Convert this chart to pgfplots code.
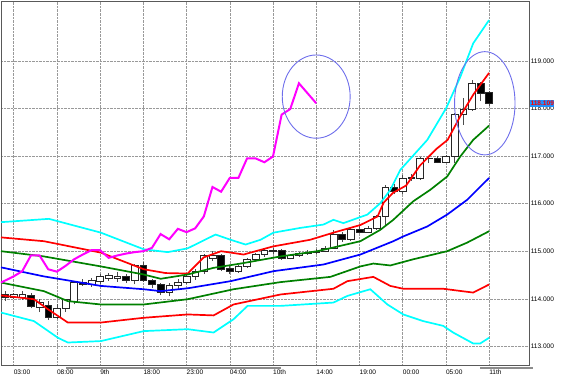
\documentclass[border=0pt]{standalone}
\usepackage{pgfplots}
\pgfplotsset{compat=1.18}
\usepackage{fontspec}
\setmainfont{Liberation Sans}
\definecolor{mtcyan}{RGB}{0,255,255}
\definecolor{mtred}{RGB}{255,0,0}
\definecolor{mtgreen}{RGB}{0,128,0}
\definecolor{mtblue}{RGB}{0,0,255}
\definecolor{mtmag}{RGB}{255,0,255}
\definecolor{ellc}{RGB}{110,110,235}
\definecolor{pricebg}{RGB}{30,144,255}
% candle: index, low, body bottom, body top, high
\newcommand{\candle}[6]{%
  \pgfmathsetmacro\xa{#1-0.39}\pgfmathsetmacro\xb{#1+0.39}%
  \edef\tmp{\noexpand\addplot[draw=black!70, line width=0.6bp] coordinates {(#1,#2) (#1,#5)};
    \noexpand\addplot[draw=black!85, fill=#6, line width=0.6bp] coordinates {(\xa,#3) (\xb,#3) (\xb,#4) (\xa,#4)} -- cycle;}%
  \tmp}
\newcommand{\cw}[5]{\candle{#1}{#2}{#3}{#4}{#5}{white}}
\newcommand{\cb}[5]{\candle{#1}{#2}{#3}{#4}{#5}{black}}
\begin{document}
\begin{tikzpicture}
\begin{axis}[
  name=ax, scale only axis, width=529bp, height=365bp,
  xmin=-0.46, xmax=60.62, ymin=112.60, ymax=120.26,
  clip=false,
  xtick={1,6,...,56},
  xticklabels={03:00,08:00,9th,18:00,23:00,04:00,10th,14:00,19:00,00:00,05:00,11th},
  ytick={113,114,...,119},
  yticklabel pos=right,
  grid=major,
  major grid style={densely dotted, black!40, line width=0.5bp},
  major tick length=0pt,
  axis line style={black!65, line width=0.7bp},
  yticklabel style={font=\fontsize{6.6}{7}\selectfont, anchor=west, inner sep=0pt, xshift=1.5bp,
     /pgf/number format/fixed, /pgf/number format/fixed zerofill, /pgf/number format/precision=3},
  xticklabel style={font=\fontsize{6.6}{7}\selectfont, anchor=north west, inner sep=0pt, yshift=-4bp},
  /pgf/number format/assume math mode=true,
]
% candles
\cb{0}{113.95}{114.03}{114.09}{114.16}
\cw{1}{113.99}{114.03}{114.10}{114.12}
\cw{2}{113.98}{114.03}{114.10}{114.16}
\cb{3}{113.80}{113.85}{114.08}{114.12}
\cw{4}{113.72}{113.82}{113.92}{113.99}
\cb{5}{113.55}{113.60}{113.87}{113.95}
\cw{6}{113.57}{113.62}{113.80}{113.88}
\cw{7}{113.72}{113.80}{113.98}{114.00}
\cw{8}{113.88}{113.95}{114.34}{114.38}
\cb{9}{114.27}{114.31}{114.34}{114.42}
\cw{10}{114.25}{114.31}{114.38}{114.44}
\cw{11}{114.30}{114.36}{114.47}{114.52}
\cw{12}{114.38}{114.44}{114.50}{114.55}
\cw{13}{114.36}{114.42}{114.48}{114.56}
\cb{14}{114.33}{114.39}{114.48}{114.52}
\cw{15}{114.30}{114.39}{114.70}{114.73}
\cb{16}{114.35}{114.38}{114.70}{114.78}
\cb{17}{114.22}{114.30}{114.38}{114.42}
\cb{18}{114.07}{114.13}{114.30}{114.34}
\cw{19}{114.05}{114.13}{114.28}{114.33}
\cw{20}{114.20}{114.28}{114.34}{114.42}
\cw{21}{114.30}{114.34}{114.47}{114.52}
\cw{22}{114.40}{114.47}{114.58}{114.62}
\cw{23}{114.52}{114.58}{114.91}{114.95}
\cw{24}{114.80}{114.86}{114.91}{115.00}
\cb{25}{114.58}{114.62}{114.92}{114.95}
\cb{26}{114.52}{114.57}{114.63}{114.68}
\cw{27}{114.55}{114.57}{114.69}{114.72}
\cw{28}{114.65}{114.69}{114.83}{114.86}
\cw{29}{114.80}{114.83}{114.93}{114.97}
\cw{30}{114.88}{114.93}{115.02}{115.05}
\cw{31}{114.95}{115.00}{115.02}{115.06}
\cb{32}{114.82}{114.86}{115.02}{115.05}
\cw{33}{114.83}{114.86}{114.91}{114.95}
\cw{34}{114.88}{114.91}{114.95}{114.98}
\cw{35}{114.92}{114.95}{114.98}{115.02}
\cw{36}{114.94}{114.98}{115.00}{115.04}
\cw{37}{114.98}{115.00}{115.07}{115.10}
\cw{38}{115.05}{115.07}{115.36}{115.45}
\cb{39}{115.20}{115.25}{115.36}{115.40}
\cw{40}{115.22}{115.25}{115.47}{115.50}
\cb{41}{115.38}{115.40}{115.47}{115.52}
\cw{42}{115.38}{115.40}{115.48}{115.52}
\cw{43}{115.45}{115.48}{115.73}{115.76}
\cw{44}{115.55}{115.73}{116.35}{116.40}
\cb{45}{116.20}{116.25}{116.35}{116.42}
\cw{46}{116.20}{116.25}{116.54}{116.60}
\cw{47}{116.48}{116.54}{116.55}{116.62}
\cw{48}{116.50}{116.54}{116.95}{116.98}
\cw{49}{116.85}{116.95}{116.96}{117.00}
\cb{50}{116.85}{116.87}{116.95}{117.00}
\cw{51}{116.85}{116.87}{116.99}{117.02}
\cw{52}{116.85}{116.99}{117.87}{117.90}
\cw{53}{117.66}{117.87}{117.99}{118.22}
\cw{54}{117.95}{117.99}{118.53}{118.60}
\cb{55}{118.15}{118.32}{118.53}{118.55}
\cb{56}{118.05}{118.11}{118.34}{118.36}
% Bollinger bands
\addplot[mtcyan, line width=1.7bp] coordinates {(-0.46,115.61) (5.08,115.68) (11.09,115.39) (16.05,115.04) (18.82,114.98) (21.13,115.06) (24.36,115.35) (26.10,115.24) (27.83,115.14) (29.56,115.24) (31.06,115.39) (34.18,115.49) (36.84,115.56) (37.99,115.66) (39.15,115.59) (41.92,115.77) (43.42,116.01) (44.57,116.29) (45.73,116.71) (48.85,117.34) (51.04,118.01) (52.66,118.66) (54.16,119.37) (56,119.86)};
\addplot[mtred, line width=1.7bp] coordinates {(-0.46,115.29) (4.50,115.21) (11.09,114.97) (16.05,114.62) (18.59,114.54) (21.13,114.53) (23.0,114.87) (25.0,115.00) (27.6,114.93) (31.0,115.10) (35.3,115.24) (38.0,115.39) (41.1,115.55) (43.1,115.73) (43.8,116.02) (44.9,116.23) (46.4,116.38) (48.0,116.80) (49.9,117.15) (51.2,117.34) (52.7,117.85) (54.2,118.30) (56,118.75)};
\addplot[mtgreen, line width=1.7bp] coordinates {(-0.46,115.00) (4.50,114.89) (11.09,114.68) (16.05,114.51) (18.01,114.42) (21.13,114.51) (24.13,114.65) (27.25,114.74) (31.87,114.89) (36.14,115.00) (41.11,115.21) (43.42,115.45) (44.92,115.66) (47.23,116.05) (49.19,116.29) (51.15,116.57) (52.66,116.99) (54.16,117.34) (56,117.64)};
\addplot[mtblue, line width=1.7bp] coordinates {(-0.46,114.66) (4.50,114.47) (11.09,114.27) (16.05,114.20) (18.01,114.16) (21.13,114.22) (26.10,114.37) (31.06,114.58) (36.84,114.72) (41.11,114.93) (44.92,115.21) (46.07,115.31) (48.85,115.52) (51.15,115.77) (53.46,116.08) (56,116.54)};
\addplot[mtgreen, line width=1.7bp] coordinates {(-0.46,114.34) (4.50,114.16) (7.27,113.95) (11.09,113.88) (16.05,113.88) (21.13,113.99) (26.44,114.20) (31.87,114.35) (37.64,114.46) (41.11,114.68) (42.61,114.74) (44.57,114.70) (47.23,114.83) (51.15,115.00) (53.46,115.18) (56,115.42)};
\addplot[mtred, line width=1.7bp] coordinates {(-0.46,114.07) (3.35,113.99) (4.97,113.78) (7.27,113.50) (11.09,113.50) (16.05,113.60) (21.13,113.67) (24.13,113.65) (26.44,113.88) (31.87,114.09) (37.99,114.21) (39.61,114.37) (42.61,114.46) (44.57,114.27) (46.07,114.21) (50.69,114.21) (54.16,114.13) (56,114.30)};
\addplot[mtcyan, line width=1.7bp] coordinates {(-0.46,113.71) (3.35,113.53) (6.12,113.18) (7.27,113.08) (11.09,113.11) (16.05,113.32) (21.13,113.36) (24.13,113.29) (26.44,113.57) (28.06,113.85) (31.87,113.85) (37.99,113.92) (39.61,114.06) (42.26,114.20) (44.23,113.88) (46.07,113.67) (48.38,113.53) (50.69,113.43) (51.84,113.29) (54.16,113.06) (54.97,113.06) (56,113.18)};
% lagging line
\addplot[mtmag, line width=2bp] coordinates {(-0.46,114.34) (1,114.47) (2,114.58) (3,114.91) (4,114.91) (5,114.62) (6,114.57) (7,114.69) (8,114.83) (9,114.93) (10,115.02) (11,115.02) (12,114.86) (13,114.91) (14,114.95) (15,114.98) (16,115.00) (17,115.07) (18,115.36) (19,115.25) (20,115.47) (21,115.40) (22,115.48) (23,115.73) (24,116.35) (25,116.25) (26,116.54) (27,116.54) (28,116.95) (29,116.95) (30,116.87) (31,116.99) (32,117.87) (33,117.99) (34,118.53) (35,118.32) (36,118.11)};
% annotations
\draw[ellc, line width=0.9bp] (axis cs:36.0,118.25) ellipse [x radius=34bp, y radius=41.7bp];
\draw[ellc, line width=0.9bp] (axis cs:55.5,118.11) ellipse [x radius=30.3bp, y radius=51.7bp];
\end{axis}
% current price label (118.109) drawn on top of the tick labels
\node[fill=pricebg, text=red, font=\bfseries\fontsize{6.6}{7}\selectfont, inner xsep=0.5pt, inner ysep=0pt, anchor=west, minimum height=6.5bp] at ([xshift=0.8bp,yshift=-102.5bp]ax.north east) {118.109};
\fill[black!45] ([xshift=65bp,yshift=-2bp]ax.south west) rectangle ([xshift=280bp,yshift=-3.6bp]ax.south west);
\fill[black!45] ([xshift=480bp,yshift=-2bp]ax.south west) rectangle ([xshift=533bp,yshift=-3.6bp]ax.south west);
\path ([yshift=-13bp]ax.south west) rectangle ([xshift=32bp,yshift=1bp]ax.north east);
\end{tikzpicture}
\end{document}
